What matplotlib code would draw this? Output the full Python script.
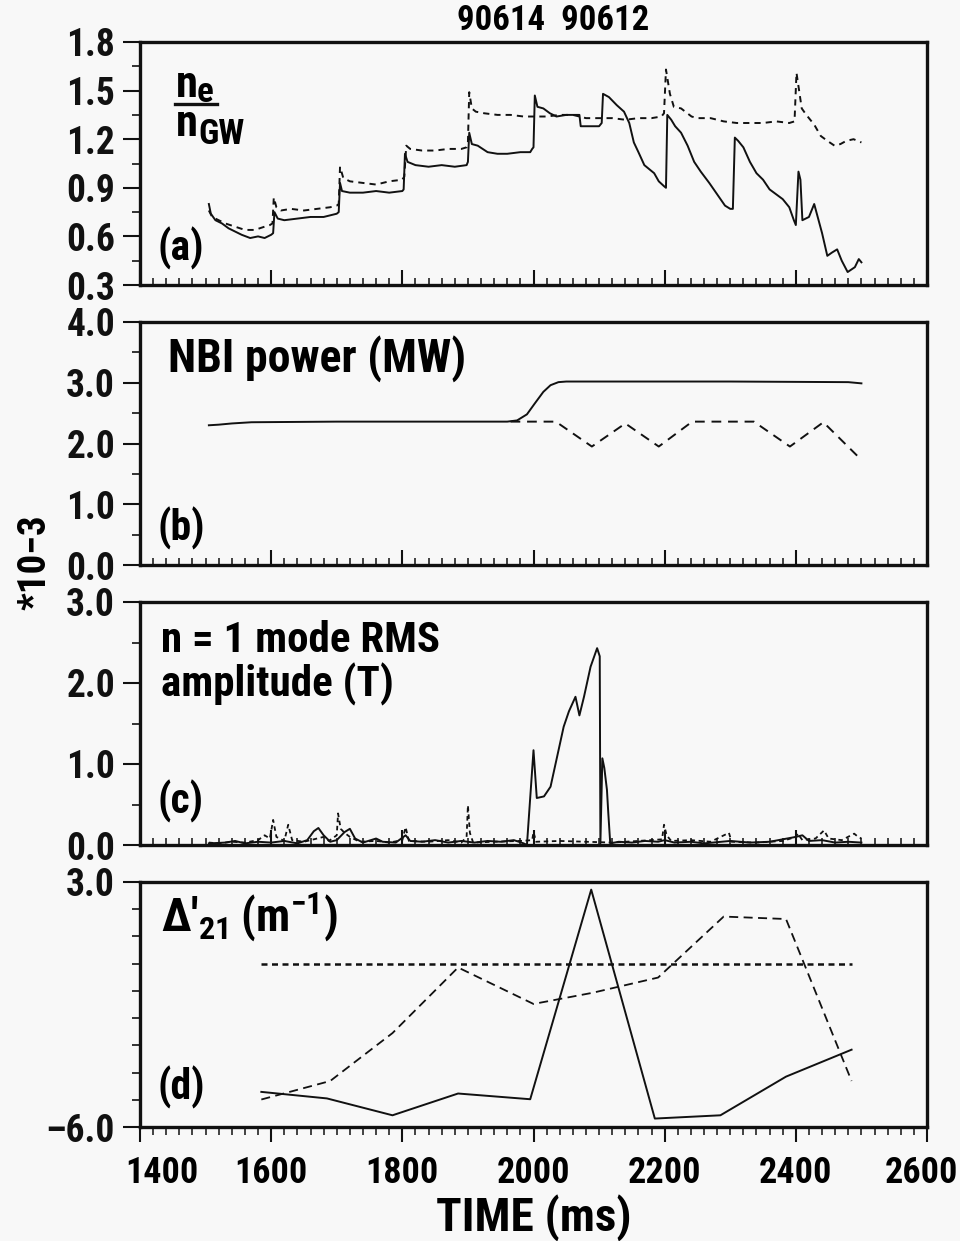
import matplotlib
matplotlib.use("Agg")
import matplotlib.pyplot as plt
from matplotlib import font_manager
from matplotlib.ticker import MultipleLocator, FixedLocator
import matplotlib.transforms as mtrans
from matplotlib.lines import Line2D

# ---------------------------------------------------------------- data
SHOT_LABEL = "90614  90612"

# (a) line-averaged density normalised to the Greenwald limit
dens_t_solid = [1505, 1508, 1515, 1525, 1535, 1545, 1555, 1568, 1580, 1590, 1600, 1603,
                1605, 1610, 1620, 1640, 1660, 1680, 1700, 1703,
                1705, 1708, 1720, 1740, 1760, 1780, 1800, 1802,
                1804, 1808, 1820, 1840, 1860, 1880, 1898, 1900,
                1902, 1906, 1915, 1930, 1945, 1960, 1980, 1995, 1998, 2000,
                2002, 2006, 2015, 2025, 2035, 2050, 2065, 2070,
                2072, 2085, 2100, 2104,
                2106, 2115, 2127, 2138, 2146, 2153, 2160, 2169, 2178, 2184, 2191, 2199, 2202,
                2204, 2210, 2216, 2225, 2235, 2245, 2255, 2268, 2280, 2292, 2300, 2304,
                2307, 2312, 2320, 2330, 2340, 2350, 2360, 2370, 2380, 2390, 2397, 2400,
                2404, 2407, 2410, 2420, 2428, 2440, 2448, 2455, 2463, 2470, 2479, 2490, 2496, 2500]
dens_v_solid = [0.80, 0.74, 0.70, 0.68, 0.65, 0.63, 0.61, 0.59, 0.60, 0.59, 0.61, 0.62,
                0.75, 0.71, 0.70, 0.71, 0.72, 0.72, 0.74, 0.75,
                0.93, 0.88, 0.87, 0.87, 0.88, 0.87, 0.88, 0.89,
                1.11, 1.06, 1.04, 1.03, 1.04, 1.03, 1.04, 1.06,
                1.24, 1.17, 1.16, 1.12, 1.11, 1.11, 1.12, 1.12, 1.14, 1.15,
                1.47, 1.40, 1.39, 1.36, 1.34, 1.35, 1.35, 1.35,
                1.28, 1.28, 1.28, 1.30,
                1.48, 1.46, 1.41, 1.37, 1.30, 1.18, 1.12, 1.04, 1.01, 0.99, 0.94, 0.91, 0.90,
                1.35, 1.32, 1.28, 1.24, 1.16, 1.06, 1.00, 0.93, 0.86, 0.79, 0.77, 0.77,
                1.21, 1.19, 1.15, 1.06, 0.99, 0.95, 0.89, 0.86, 0.83, 0.78, 0.70, 0.67,
                1.00, 0.95, 0.70, 0.72, 0.80, 0.62, 0.48, 0.50, 0.52, 0.45, 0.38, 0.41, 0.46, 0.44]

dens_t_dash = [1505, 1510, 1520, 1530, 1545, 1560, 1575, 1590, 1598, 1602,
               1604, 1608, 1615, 1630, 1650, 1670, 1690, 1700, 1703,
               1705, 1710, 1720, 1740, 1760, 1780, 1800, 1803,
               1806, 1812, 1830, 1850, 1870, 1890, 1898, 1900,
               1902, 1906, 1912, 1925, 1945, 1965, 1985, 2000, 2020, 2040, 2060, 2080,
               2100, 2120, 2140, 2160, 2180, 2195, 2199,
               2202, 2208, 2214, 2225, 2241, 2250, 2270, 2290, 2310, 2330, 2350, 2370, 2390, 2398,
               2401, 2409, 2416, 2428, 2438, 2448, 2459, 2468, 2477, 2488, 2500]
dens_v_dash = [0.76, 0.72, 0.70, 0.68, 0.66, 0.64, 0.64, 0.66, 0.67, 0.68,
               0.84, 0.78, 0.76, 0.77, 0.76, 0.77, 0.78, 0.79, 0.80,
               1.03, 0.96, 0.94, 0.93, 0.92, 0.94, 0.95, 0.97,
               1.16, 1.14, 1.13, 1.13, 1.14, 1.14, 1.15, 1.18,
               1.49, 1.39, 1.37, 1.36, 1.35, 1.35, 1.34, 1.34, 1.34, 1.35, 1.35, 1.33,
               1.33, 1.33, 1.32, 1.33, 1.33, 1.34, 1.36,
               1.63, 1.48, 1.40, 1.39, 1.34, 1.33, 1.33, 1.31, 1.30, 1.30, 1.30, 1.31, 1.30, 1.31,
               1.61, 1.39, 1.35, 1.29, 1.22, 1.19, 1.16, 1.17, 1.19, 1.20, 1.18]

# (b) neutral beam power
nbi_t_solid = [1505, 1520, 1540, 1570, 1700, 1850, 1960, 1975, 1990, 2002, 2015, 2026,
               2038, 2050, 2100, 2300, 2480, 2500]
nbi_v_solid = [2.30, 2.31, 2.33, 2.35, 2.36, 2.36, 2.36, 2.38, 2.48, 2.66, 2.85, 2.96,
               3.01, 3.02, 3.02, 3.02, 3.01, 2.99]
nbi_t_dash = [1965, 2034, 2089, 2140, 2191, 2242, 2336, 2391, 2442, 2500]
nbi_v_dash = [2.36, 2.36, 1.95, 2.33, 1.95, 2.36, 2.36, 1.95, 2.35, 1.73]

# (c) n = 1 mode rms amplitude (units of 1e-3 T)
mode_t_solid = [1505, 1530, 1545, 1560, 1580, 1600, 1620, 1640, 1655, 1665, 1672, 1680,
                1690, 1700, 1712, 1720, 1728, 1740, 1760, 1770, 1790, 1805, 1812, 1830,
                1850, 1870, 1890, 1910, 1930, 1950, 1970, 1985, 1990,
                2000, 2005, 2016, 2026, 2036, 2046, 2054, 2064, 2070, 2077, 2087, 2097, 2101,
                2102, 2105, 2108, 2112, 2114, 2117,
                2130, 2150, 2170, 2190, 2200, 2215, 2240, 2260, 2300, 2330, 2360, 2400,
                2410, 2420, 2440, 2460, 2480, 2500]
mode_v_solid = [0.02, 0.03, 0.05, 0.02, 0.04, 0.03, 0.05, 0.02, 0.06, 0.17, 0.21, 0.12,
                0.04, 0.06, 0.16, 0.20, 0.08, 0.03, 0.08, 0.04, 0.03, 0.12, 0.05, 0.04,
                0.06, 0.03, 0.05, 0.03, 0.05, 0.04, 0.06, 0.02, 0.00,
                1.17, 0.58, 0.60, 0.72, 1.09, 1.46, 1.65, 1.83, 1.60, 1.83, 2.20, 2.43, 2.33,
                0.02, 1.07, 0.95, 0.68, 0.40, 0.02,
                0.04, 0.03, 0.05, 0.04, 0.06, 0.03, 0.04, 0.02, 0.05, 0.03, 0.04, 0.10,
                0.12, 0.05, 0.06, 0.03, 0.04, 0.03]

mode_t_dash = [1505, 1520, 1540, 1560, 1580, 1590, 1598, 1603, 1608, 1620, 1626, 1632,
               1650, 1680, 1688, 1700, 1702, 1706, 1712, 1720, 1735, 1760, 1780, 1800,
               1805, 1810, 1840, 1870, 1890, 1898, 1900, 1903, 1908, 1940, 1980, 1998,
               2000, 2004, 2040, 2080, 2120, 2160, 2196, 2199, 2203, 2210, 2240, 2270,
               2298, 2302, 2340, 2380, 2400, 2403, 2410, 2430, 2443, 2450, 2470, 2489,
               2495, 2500]
mode_v_dash = [0.03, 0.02, 0.04, 0.03, 0.06, 0.12, 0.08, 0.31, 0.10, 0.05, 0.25, 0.06,
               0.04, 0.10, 0.05, 0.12, 0.39, 0.20, 0.15, 0.10, 0.04, 0.05, 0.03, 0.06,
               0.22, 0.05, 0.04, 0.06, 0.03, 0.10, 0.49, 0.15, 0.03, 0.04, 0.05, 0.06,
               0.16, 0.04, 0.05, 0.04, 0.03, 0.05, 0.07, 0.25, 0.12, 0.05, 0.06, 0.04,
               0.15, 0.04, 0.03, 0.05, 0.10, 0.14, 0.06, 0.08, 0.18, 0.08, 0.06, 0.14,
               0.10, 0.08]

# (d) tearing stability index Delta'_21 (m^-1)
dp_t_solid = [1585, 1685, 1785, 1885, 1995, 2088, 2185, 2285, 2385, 2485]
dp_v_solid = [-4.71, -4.95, -5.57, -4.77, -4.98, 2.72, -5.69, -5.57, -4.15, -3.16]
dp_t_dash = [1585, 1690, 1785, 1885, 2000, 2090, 2190, 2290, 2385, 2485]
dp_v_dash = [-4.99, -4.31, -2.55, -0.14, -1.48, -1.07, -0.51, 1.73, 1.64, -4.31]
dp_t_zero = [1585, 2485]
dp_v_zero = [0.0, 0.0]

# axis ticks
time_ticks = [1400, 1600, 1800, 2000, 2200, 2400, 2600]
a_ticks = [0.3, 0.6, 0.9, 1.2, 1.5, 1.8]
b_ticks = [0.0, 1.0, 2.0, 3.0, 4.0]
c_ticks = [0.0, 1.0, 2.0, 3.0]
d_ticks = [-6.0, 3.0]


# ---------------------------------------------------------------- fonts
def pick_font(cands):
    for name in cands:
        try:
            font_manager.findfont(font_manager.FontProperties(family=name),
                                  fallback_to_default=False)
            return name
        except Exception:
            pass
    return "DejaVu Sans"


FONT = pick_font(["Liberation Sans Narrow", "Roboto Condensed", "Open Sans Condensed",
                  "Liberation Sans"])
plt.rcParams["font.family"] = [FONT, "DejaVu Sans"]
plt.rcParams["font.weight"] = "bold"
plt.rcParams["axes.labelweight"] = "bold"
plt.rcParams["mathtext.fontset"] = "custom"
plt.rcParams["mathtext.rm"] = f"{FONT}:bold"
plt.rcParams["mathtext.it"] = f"{FONT}:bold"
plt.rcParams["mathtext.bf"] = f"{FONT}:bold"
plt.rcParams["mathtext.sf"] = f"{FONT}:bold"
plt.rcParams["mathtext.default"] = "rm"

BG = "#f8f8f8"
INK = "#111111"
W, H = 960, 1241

fig = plt.figure(figsize=(W / 100, H / 100), dpi=100, facecolor=BG)


def panel(top, bottom):
    ax = fig.add_axes([140 / W, 1 - bottom / H, 787 / W, (bottom - top) / H])
    ax.set_facecolor(BG)
    for s in ax.spines.values():
        s.set_linewidth(2.4)
        s.set_color(INK)
    ax.set_xlim(1400, 2600)
    ax.xaxis.set_major_locator(FixedLocator(time_ticks))
    ax.xaxis.set_minor_locator(MultipleLocator(20))
    ax.tick_params(axis="x", which="major", direction="in", length=11, width=1.5,
                   color=INK, labelbottom=False)
    ax.tick_params(axis="x", which="minor", direction="in", length=5, width=1.1, color=INK)
    ax.tick_params(axis="y", which="major", direction="out", length=12, width=1.5,
                   color=INK, labelsize=27, pad=6, labelcolor=INK)
    ax.tick_params(axis="y", which="minor", direction="out", length=6, width=1.2, color=INK)
    return ax


def fmt(v):
    # long dash for negative values
    return f"{v:.1f}".replace("-", "\u2013")


def shift(label, dx_px):
    label.set_transform(label.get_transform() +
                        mtrans.ScaledTranslation(dx_px / 100, 0, fig.dpi_scale_trans))


SOLID = dict(color=INK, lw=1.4, ls="-")
DASH = dict(color=INK, lw=1.4, ls=(0, (3.2, 2.6)))

# ---------------------------------------------------------------- (a)
ax_a = panel(42, 285)
ax_a.plot(dens_t_dash, dens_v_dash, **DASH)
ax_a.plot(dens_t_solid, dens_v_solid, **SOLID)
ax_a.set_ylim(0.3, 1.8)
ax_a.set_yticks(a_ticks, [fmt(v) for v in a_ticks])
ax_a.yaxis.set_minor_locator(MultipleLocator(0.15))
ax_a.text(0.022, 0.152, "(a)", transform=ax_a.transAxes, fontsize=30,
          ha="left", va="center")


def ax_px(x, y, top, bottom):
    return (x - 140) / 787, (bottom - y) / (bottom - top)


# n_e / n_GW drawn as a stacked fraction
tr = ax_a.transAxes
ax_a.text(*ax_px(176, 97, 42, 285), "n", transform=tr, fontsize=32, ha="left",
          va="baseline")
ax_a.text(*ax_px(197, 102, 42, 285), "e", transform=tr, fontsize=25, ha="left",
          va="baseline")
x0, y0 = ax_px(175, 104, 42, 285)
x1, _ = ax_px(217, 104, 42, 285)
ax_a.add_line(Line2D([x0, x1], [y0, y0], transform=tr, color=INK, lw=2.4))
ax_a.text(*ax_px(176, 136, 42, 285), "n", transform=tr, fontsize=32, ha="left",
          va="baseline")
ax_a.text(*ax_px(198, 144, 42, 285), "GW", transform=tr, fontsize=25, ha="left",
          va="baseline")

fig.text(553 / W, 1 - 20 / H, SHOT_LABEL, fontsize=25, ha="center", va="center")

# ---------------------------------------------------------------- (b)
ax_b = panel(322, 565)
ax_b.plot(nbi_t_solid, nbi_v_solid, **SOLID)
ax_b.plot(nbi_t_dash, nbi_v_dash, color=INK, lw=1.4, ls=(0, (5, 3.5)))
ax_b.set_ylim(0.0, 4.0)
ax_b.set_yticks(b_ticks, [fmt(v) for v in b_ticks])
ax_b.yaxis.set_minor_locator(MultipleLocator(0.5))
ax_b.text(0.035, 0.794, "NBI power (MW)", transform=ax_b.transAxes, fontsize=33,
          ha="left", va="baseline")
ax_b.text(0.022, 0.152, "(b)", transform=ax_b.transAxes, fontsize=30,
          ha="left", va="center")

# ---------------------------------------------------------------- (c)
ax_c = panel(602, 845)
ax_c.plot(mode_t_dash, mode_v_dash, color=INK, lw=1.3, ls=(0, (2.5, 2)))
ax_c.plot(mode_t_solid, mode_v_solid, color=INK, lw=1.4)
ax_c.set_ylim(0.0, 3.0)
ax_c.set_yticks(c_ticks, [fmt(v) for v in c_ticks])
ax_c.yaxis.set_minor_locator(MultipleLocator(0.5))
ax_c.text(0.027, (845 - 652) / 243, "n = 1 mode RMS", transform=ax_c.transAxes,
          fontsize=31, ha="left", va="baseline")
ax_c.text(0.027, (845 - 697) / 243, "amplitude (T)", transform=ax_c.transAxes,
          fontsize=31, ha="left", va="baseline")
ax_c.text(0.022, 0.181, "(c)", transform=ax_c.transAxes, fontsize=30,
          ha="left", va="center")

# ---------------------------------------------------------------- (d)
ax_d = panel(882, 1127)
ax_d.plot(dp_t_zero, dp_v_zero, color=INK, lw=1.8, ls=(0, (2.4, 1.8)))
ax_d.plot(dp_t_dash, dp_v_dash, color=INK, lw=1.3, ls=(0, (5, 3)))
ax_d.plot(dp_t_solid, dp_v_solid, **SOLID)
ax_d.set_ylim(-6.0, 3.0)
ax_d.set_yticks(d_ticks, [fmt(v) for v in d_ticks])
ax_d.yaxis.set_minor_locator(MultipleLocator(1.0))
ax_d.tick_params(axis="x", which="major", direction="out", length=11, width=1.5,
                 labelbottom=True, labelsize=26, pad=9)
ax_d.tick_params(axis="x", which="minor", direction="out", length=6, width=1.1)
ax_d.set_xticks(time_ticks, [str(t) for t in time_ticks])
ax_d.text(0.027, 0.796, "\u0394\u2032$_{21}$\u2009(m$^{-1}$)", transform=ax_d.transAxes,
          fontsize=33, ha="left", va="baseline")
ax_d.text(0.022, 0.163, "(d)", transform=ax_d.transAxes, fontsize=30,
          ha="left", va="center")
ax_d.set_xlabel("TIME (ms)", fontsize=34, fontweight="bold", labelpad=2)

# end labels of the time axis are nudged inwards
xlabels = ax_d.get_xticklabels()
shift(xlabels[0], 22)
shift(xlabels[-1], -6)

fig.text(35 / W, 1 - 562 / H, "*10\u22123", fontsize=28, rotation=90,
         ha="center", va="center")

fig.savefig("out.png", dpi=100, facecolor=BG)
